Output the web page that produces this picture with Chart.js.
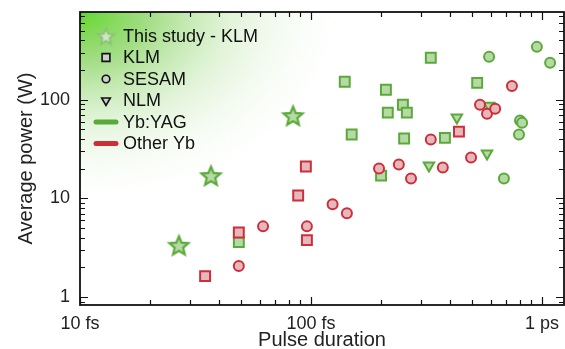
<!DOCTYPE html>
<html lang="en">
<head>
<meta charset="UTF-8">
<title>Average power vs pulse duration</title>
<script src="https://cdn.jsdelivr.net/npm/chart.js@4.4.0/dist/chart.umd.min.js"></script>
<style>
  body { margin: 0; background: #fff; }
  canvas { display: block; }
</style>
</head>
<body>
<canvas id="powerChart" width="565" height="349"></canvas>
<script>
// values: pulse duration (fs) vs average power (W)
const studyDur = [26.8, 36.9, 83.6];
const studyPow = [3.35, 17, 69];

const yagKlmDur = [140, 211, 250, 215, 260, 150, 253, 380, 330, 524, 201, 48.7];
const yagKlmPow = [152, 126, 89, 74, 74, 44.3, 40.4, 41, 266, 148, 17, 3.6];

const yagSesamDur = [590, 950, 1084, 803, 820, 795, 684];
const yagSesamPow = [272, 343, 237, 61.4, 58.5, 44.3, 15.9];

const yagNlmDur = [428, 590, 324, 578];
const yagNlmPow = [66, 87, 21.5, 28.5];

const otherKlmDur = [34.8, 48.7, 88, 95, 96, 437];
const otherKlmPow = [1.63, 4.5, 10.7, 21, 3.77, 47.5];

const otherSesamDur = [48.7, 62, 96, 124, 143, 197, 240, 271, 330, 372, 493, 539, 578, 627, 741];
const otherSesamPow = [2.06, 5.2, 5.2, 8.7, 7.05, 20.1, 22, 15.9, 39.5, 20.6, 26, 89, 72, 81, 138];

const xTickVals = [10, 100, 1000];
const xTickLabels = ['10 fs', '100 fs', '1 ps'];
const yTickVals = [1, 10, 100];
const yTickLabels = ['1', '10', '100'];

const legendLabels = ['This study - KLM', 'KLM', 'SESAM', 'NLM', 'Yb:YAG', 'Other Yb'];

const GREEN = '#5aaa3a', GREEN_FILL = '#b7d9a6';
const RED = '#cc2f3a', RED_FILL = '#e6b8bc';
const FONT = '"Liberation Sans", Arial, sans-serif';

function pts(xs, ys) {
    return xs.map((x, i) => ({ x: x, y: ys[i] }));
}

function makeStar(outer, inner, fill, stroke, lw) {
    const size = Math.ceil(outer * 2 + lw * 2 + 2);
    const c = document.createElement('canvas');
    c.width = size; c.height = size;
    const g = c.getContext('2d');
    g.translate(size / 2, size / 2 + 1);
    g.beginPath();
    for (let i = 0; i < 10; i++) {
        const r = i % 2 ? inner : outer;
        const a = -Math.PI / 2 + i * Math.PI / 5;
        g.lineTo(r * Math.cos(a), r * Math.sin(a));
    }
    g.closePath();
    g.fillStyle = fill;
    g.fill();
    g.lineWidth = lw;
    g.strokeStyle = stroke;
    g.stroke();
    return c;
}

const starMark = makeStar(10, 4.5, GREEN_FILL, GREEN, 2.2);
const starLegend = makeStar(8.5, 3.9, '#cfe6c4', '#8cc27a', 2);

function series(label, xs, ys, style, radius, stroke, fill, rotation) {
    return {
        label: label,
        data: pts(xs, ys),
        pointStyle: style,
        pointRadius: radius,
        pointRotation: rotation || 0,
        borderColor: stroke,
        backgroundColor: fill,
        borderWidth: 2
    };
}

// green glow in the upper left corner
const glow = {
    id: 'glow',
    beforeDatasetsDraw(chart) {
        const { ctx, chartArea: a } = chart;
        const sy = 0.72;
        ctx.save();
        ctx.beginPath();
        ctx.rect(a.left, a.top, a.width, a.height);
        ctx.clip();
        ctx.translate(a.left, a.top);
        ctx.scale(1, sy);
        const g = ctx.createRadialGradient(0, 0, 0, 0, 0, 275);
        g.addColorStop(0, 'rgba(100,215,45,1)');
        g.addColorStop(0.25, 'rgba(132,210,92,0.75)');
        g.addColorStop(0.55, 'rgba(190,230,170,0.45)');
        g.addColorStop(1, 'rgba(255,255,255,0)');
        ctx.fillStyle = g;
        ctx.fillRect(0, 0, a.width, a.height / sy);
        ctx.restore();
    }
};

function logTicks(min, max) {
    const out = [];
    for (let e = -1; e <= 4; e++) {
        for (let m = 1; m < 10; m++) {
            const v = m * Math.pow(10, e);
            if (v >= min && v <= max) out.push({ v: v, major: m === 1 });
        }
    }
    return out;
}

// box frame with inward ticks on all four sides, then the legend
const frame = {
    id: 'frame',
    afterDraw(chart) {
        const { ctx, chartArea: a, scales } = chart;
        ctx.save();
        ctx.strokeStyle = '#111';
        ctx.lineWidth = 1.8;
        ctx.strokeRect(a.left, a.top, a.width, a.height);
        ctx.lineWidth = 1.2;
        ctx.beginPath();
        logTicks(scales.x.min, scales.x.max).forEach(t => {
            const px = Math.round(scales.x.getPixelForValue(t.v)) + 0.5;
            const len = t.major ? 8 : 5;
            ctx.moveTo(px, a.bottom); ctx.lineTo(px, a.bottom - len);
            ctx.moveTo(px, a.top); ctx.lineTo(px, a.top + len);
        });
        logTicks(scales.y.min, scales.y.max).forEach(t => {
            const py = Math.round(scales.y.getPixelForValue(t.v)) + 0.5;
            const len = t.major ? 8 : 5;
            ctx.moveTo(a.left, py); ctx.lineTo(a.left + len, py);
            ctx.moveTo(a.right, py); ctx.lineTo(a.right - len, py);
        });
        ctx.stroke();

        // legend
        const lx = 106, tx = 123, y0 = 36, dy = 21.5;
        ctx.font = '18px ' + FONT;
        ctx.fillStyle = '#111';
        ctx.textBaseline = 'middle';
        legendLabels.forEach((txt, i) => ctx.fillText(txt, tx, y0 + i * dy + 1));

        Chart.helpers.drawPoint(ctx, { pointStyle: starLegend, radius: 8 }, lx, y0);
        ctx.fillStyle = '#cfcfcf';
        ctx.strokeStyle = '#111';
        ctx.lineWidth = 1.6;
        Chart.helpers.drawPoint(ctx, { pointStyle: 'rect', radius: 5.5, borderWidth: 1.6 }, lx, y0 + dy);
        Chart.helpers.drawPoint(ctx, { pointStyle: 'circle', radius: 3.8, borderWidth: 1.6 }, lx, y0 + 2 * dy);
        Chart.helpers.drawPoint(ctx, { pointStyle: 'triangle', radius: 5, rotation: 180, borderWidth: 1.6 }, lx, y0 + 3 * dy);

        ctx.lineCap = 'round';
        ctx.lineWidth = 5;
        ctx.strokeStyle = GREEN;
        ctx.beginPath(); ctx.moveTo(96, y0 + 4 * dy); ctx.lineTo(116, y0 + 4 * dy); ctx.stroke();
        ctx.strokeStyle = RED;
        ctx.beginPath(); ctx.moveTo(96, y0 + 5 * dy); ctx.lineTo(116, y0 + 5 * dy); ctx.stroke();
        ctx.restore();
    }
};

new Chart(document.getElementById('powerChart'), {
    type: 'scatter',
    data: {
        datasets: [
            series('Other Yb KLM', otherKlmDur, otherKlmPow, 'rect', 7, RED, RED_FILL),
            series('Other Yb SESAM', otherSesamDur, otherSesamPow, 'circle', 5, RED, RED_FILL),
            series('Yb:YAG KLM', yagKlmDur, yagKlmPow, 'rect', 7, GREEN, GREEN_FILL),
            series('Yb:YAG SESAM', yagSesamDur, yagSesamPow, 'circle', 5, GREEN, GREEN_FILL),
            series('Yb:YAG NLM', yagNlmDur, yagNlmPow, 'triangle', 6, GREEN, GREEN_FILL, 180),
            series('This study - KLM', studyDur, studyPow, starMark, 10, GREEN, GREEN_FILL)
        ]
    },
    options: {
        responsive: false,
        animation: false,
        events: [],
        layout: { autoPadding: false, padding: { top: 12, right: 1, left: 0, bottom: 0 } },
        plugins: { legend: { display: false }, tooltip: { enabled: false } },
        scales: {
            x: {
                type: 'logarithmic',
                min: 10,
                max: 1245,
                grid: { display: false },
                border: { display: false },
                afterBuildTicks: s => { s.ticks = xTickVals.map(v => ({ value: v })); },
                afterFit: s => { s.height = 44; s.paddingLeft = 0; s.paddingRight = 0; },
                ticks: {
                    autoSkip: false, maxRotation: 0, padding: 0,
                    color: '#222', font: { family: FONT, size: 18 },
                    callback: (v, i) => xTickLabels[i]
                },
                title: {
                    display: true, text: 'Pulse duration', color: '#222',
                    font: { family: FONT, size: 20 }, padding: { top: 0, bottom: -3 }
                }
            },
            y: {
                type: 'logarithmic',
                min: 0.83,
                max: 774,
                grid: { display: false },
                border: { display: false },
                afterBuildTicks: s => { s.ticks = yTickVals.map(v => ({ value: v })); },
                afterFit: s => { s.width = 80; s.paddingTop = 0; s.paddingBottom = 0; },
                ticks: {
                    autoSkip: false, padding: 2,
                    color: '#222', font: { family: FONT, size: 18 },
                    callback: (v, i) => yTickLabels[i]
                },
                title: {
                    display: true, text: 'Average power (W)', color: '#222',
                    font: { family: FONT, size: 20 }, padding: { top: 14, bottom: 14 }
                }
            }
        }
    },
    plugins: [glow, frame]
});
</script>
</body>
</html>
